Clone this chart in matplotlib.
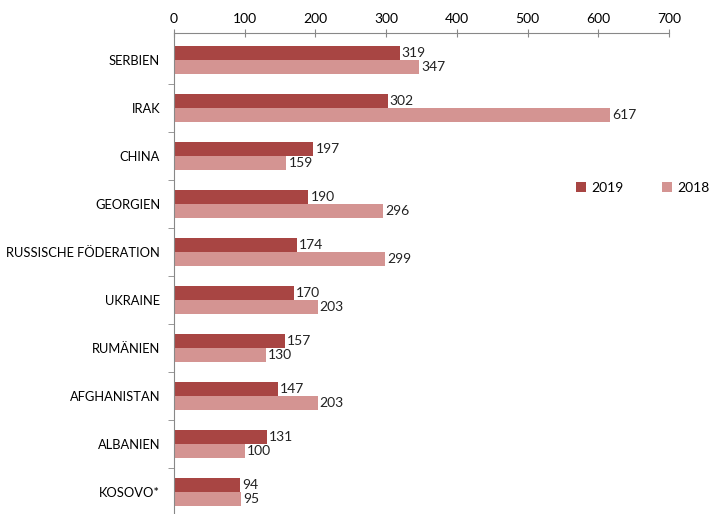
import numpy as np
import matplotlib.pyplot as plt

countries = ['SERBIEN', 'IRAK', 'CHINA', 'GEORGIEN', 'RUSSISCHE FÖDERATION',
             'UKRAINE', 'RUMÄNIEN', 'AFGHANISTAN', 'ALBANIEN', 'KOSOVO*']
v2019 = [319, 302, 197, 190, 174, 170, 157, 147, 131, 94]
v2018 = [347, 617, 159, 296, 299, 203, 130, 203, 100, 95]

c2019 = '#A84543'
c2018 = '#D49492'

plt.rcParams['font.family'] = ['Lato', 'DejaVu Sans']

fig = plt.figure(figsize=(7.2, 5.14), dpi=100)
ax = fig.add_axes([174/720, 0, (669-174)/720, (514-33)/514])

y = np.arange(len(countries))
h = 0.3
b1 = ax.barh(y - h/2, v2019, height=h, color=c2019, label='2019')
b2 = ax.barh(y + h/2, v2018, height=h, color=c2018, label='2018')
for bars in (b1, b2):
    for r in bars:
        ax.text(r.get_width() + 3, r.get_y() + r.get_height()/2, str(int(r.get_width())),
                va='center', ha='left', fontsize=10, color='#222222')

ax.set_xlim(0, 700)
ax.set_ylim(9.46, -0.5625)
ax.xaxis.tick_top()
ax.set_xticks(np.arange(0, 701, 100))
ax.tick_params(axis='x', direction='inout', length=6, labelsize=10, color='#888888', pad=3)
ax.set_yticks(y)
ax.set_yticklabels(countries, fontsize=9.3)
ax.tick_params(axis='y', which='major', length=0, pad=10)
ax.set_yticks(np.arange(0.5, len(countries) - 1), minor=True)
ax.tick_params(axis='y', which='minor', length=4, direction='out', color='#888888')
for s in ['right', 'bottom']:
    ax.spines[s].set_visible(False)
for s in ['top', 'left']:
    ax.spines[s].set_color('#888888')

ax.legend(loc='center', bbox_to_anchor=(643/720, 1-188/514), bbox_transform=fig.transFigure,
          ncol=2, frameon=False, fontsize=10, handlelength=0.7, handleheight=0.7,
          columnspacing=2.8, handletextpad=0.4)

fig.savefig('out.png', dpi=100)
